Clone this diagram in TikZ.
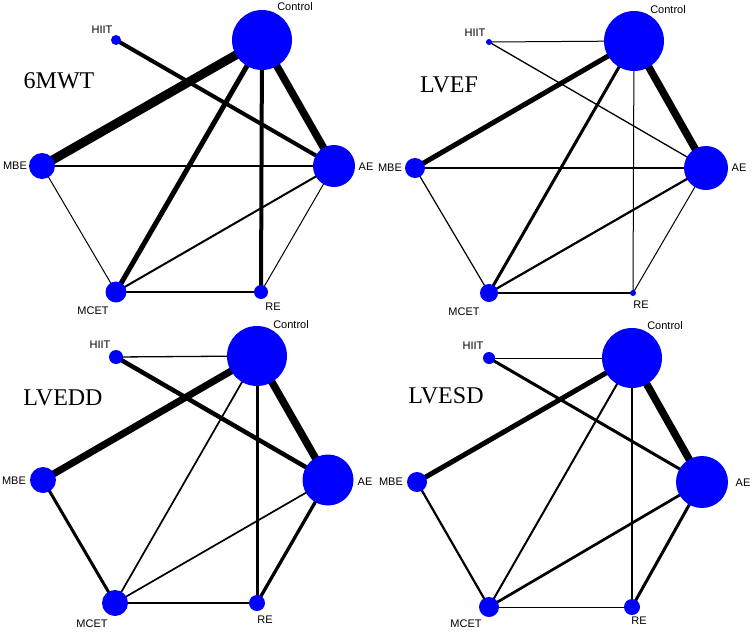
\documentclass[tikz,border=0pt]{standalone}
\usepackage{fontspec}
\setmainfont{Liberation Serif}
\setsansfont{Liberation Sans}
\usetikzlibrary{backgrounds}

\tikzset{trt/.style={circle,fill=blue,inner sep=0pt},
         lbl/.style={font=\sffamily\fontsize{11}{13}\selectfont,inner sep=0pt},
         ttl/.style={font=\fontsize{24}{28}\selectfont,inner sep=0pt}}

\begin{document}
\begin{tikzpicture}[x=1pt,y=-1pt]
\useasboundingbox (0,0) rectangle (753,632);

% 6MWT
\begin{scope}[every node/.style={trt}]
    \node[minimum size=60pt] (c1) at (262,40) {};
    \node[minimum size=10pt] (h1) at (116,40) {};
    \node[minimum size=26pt] (m1) at (42,166) {};
    \node[minimum size=42pt] (a1) at (334,166) {};
    \node[minimum size=21pt] (mc1) at (116,292) {};
    \node[minimum size=14pt] (r1) at (261,292) {};
\end{scope}
\begin{scope}[every node/.style={lbl}]
    \node (lc1) at (295,7) {Control};
    \node (lh1) at (102,30) {HIIT};
    \node (lm1) at (15,166) {MBE};
    \node (la1) at (366,167) {AE};
    \node (lmc1) at (93,311) {MCET};
    \node (lr1) at (273,307) {RE};
\end{scope}
\node[ttl] (t1) at (59,81) {6MWT};
\begin{scope}[on background layer]
    \path (c1.center) edge[line width=9pt] (m1.center);
    \path (c1.center) edge[line width=7.5pt] (a1.center);
    \path (h1.center) edge[line width=4pt] (a1.center);
    \path (c1.center) edge[line width=5pt] (mc1.center);
    \path (c1.center) edge[line width=4pt] (r1.center);
    \path (m1.center) edge[line width=1.2pt] (a1.center);
    \path (m1.center) edge[line width=1pt] (mc1.center);
    \path (mc1.center) edge[line width=2pt] (a1.center);
    \path (mc1.center) edge[line width=1.8pt] (r1.center);
    \path (r1.center) edge[line width=1pt] (a1.center);
\end{scope}

% LVEF
\begin{scope}[every node/.style={trt}]
    \node[minimum size=60pt] (c2) at (634,41) {};
    \node[minimum size=6pt] (h2) at (489,42) {};
    \node[minimum size=20pt] (m2) at (415,168) {};
    \node[minimum size=44pt] (a2) at (706,168) {};
    \node[minimum size=18pt] (mc2) at (489,293) {};
    \node[minimum size=6pt] (r2) at (633,293) {};
\end{scope}
\begin{scope}[every node/.style={lbl}]
    \node (lc2) at (668,10) {Control};
    \node (lh2) at (475,33) {HIIT};
    \node (lm2) at (390,168) {MBE};
    \node (la2) at (739,168) {AE};
    \node (lmc2) at (464,312) {MCET};
    \node (lr2) at (641,305) {RE};
\end{scope}
\node[ttl] (t2) at (449,85) {LVEF};
\begin{scope}[on background layer]
    \path (h2.center) edge[line width=1pt] (c2.center);
    \path (h2.center) edge[line width=1.3pt] (a2.center);
    \path (c2.center) edge[line width=5pt] (m2.center);
    \path (c2.center) edge[line width=7.5pt] (a2.center);
    \path (c2.center) edge[line width=3pt] (mc2.center);
    \path (c2.center) edge[line width=1pt] (r2.center);
    \path (m2.center) edge[line width=1.2pt] (a2.center);
    \path (m2.center) edge[line width=1.2pt] (mc2.center);
    \path (mc2.center) edge[line width=2.2pt] (a2.center);
    \path (mc2.center) edge[line width=1.2pt] (r2.center);
    \path (r2.center) edge[line width=1pt] (a2.center);
\end{scope}

% LVEDD
\begin{scope}[every node/.style={trt}]
    \node[minimum size=60pt] (c3) at (257,356) {};
    \node[minimum size=14pt] (h3) at (116,357) {};
    \node[minimum size=26pt] (m3) at (43,480) {};
    \node[minimum size=51pt] (a3) at (328,480) {};
    \node[minimum size=26pt] (mc3) at (115,603) {};
    \node[minimum size=16pt] (r3) at (257,603) {};
\end{scope}
\begin{scope}[every node/.style={lbl}]
    \node (lc3) at (291,325) {Control};
    \node (lh3) at (100,345) {HIIT};
    \node (lm3) at (14,481) {MBE};
    \node (la3) at (365,482) {AE};
    \node (lmc3) at (92,624) {MCET};
    \node (lr3) at (265,620) {RE};
\end{scope}
\node[ttl] (t3) at (63,398) {LVEDD};
\begin{scope}[on background layer]
    \path (h3.center) edge[line width=1.3pt] (c3.center);
    \path (h3.center) edge[line width=4.5pt] (a3.center);
    \path (c3.center) edge[line width=7pt] (m3.center);
    \path (c3.center) edge[line width=7.5pt] (a3.center);
    \path (c3.center) edge[line width=1.7pt] (mc3.center);
    \path (c3.center) edge[line width=3pt] (r3.center);
    \path (m3.center) edge[line width=3pt] (mc3.center);
    \path (mc3.center) edge[line width=1.7pt] (a3.center);
    \path (mc3.center) edge[line width=1.2pt] (r3.center);
    \path (r3.center) edge[line width=3.3pt] (a3.center);
\end{scope}

% LVESD
\begin{scope}[every node/.style={trt}]
    \node[minimum size=60pt] (c4) at (632,358) {};
    \node[minimum size=12pt] (h4) at (489,358) {};
    \node[minimum size=20pt] (m4) at (417,482) {};
    \node[minimum size=52pt] (a4) at (702,482) {};
    \node[minimum size=20pt] (mc4) at (489,607) {};
    \node[minimum size=16pt] (r4) at (632,607) {};
\end{scope}
\begin{scope}[every node/.style={lbl}]
    \node (lc4) at (665,326) {Control};
    \node (lh4) at (473,346) {HIIT};
    \node (lm4) at (391,482) {MBE};
    \node (la4) at (743,483) {AE};
    \node (lmc4) at (466,624) {MCET};
    \node (lr4) at (639,621) {RE};
\end{scope}
\node[ttl] (t4) at (446,396) {LVESD};
\begin{scope}[on background layer]
    \path (h4.center) edge[line width=1pt] (c4.center);
    \path (h4.center) edge[line width=3pt] (a4.center);
    \path (c4.center) edge[line width=5pt] (m4.center);
    \path (c4.center) edge[line width=7.5pt] (a4.center);
    \path (c4.center) edge[line width=2pt] (mc4.center);
    \path (c4.center) edge[line width=2pt] (r4.center);
    \path (m4.center) edge[line width=2.2pt] (mc4.center);
    \path (mc4.center) edge[line width=2.7pt] (a4.center);
    \path (mc4.center) edge[line width=1pt] (r4.center);
    \path (r4.center) edge[line width=3pt] (a4.center);
\end{scope}
\end{tikzpicture}
\end{document}
